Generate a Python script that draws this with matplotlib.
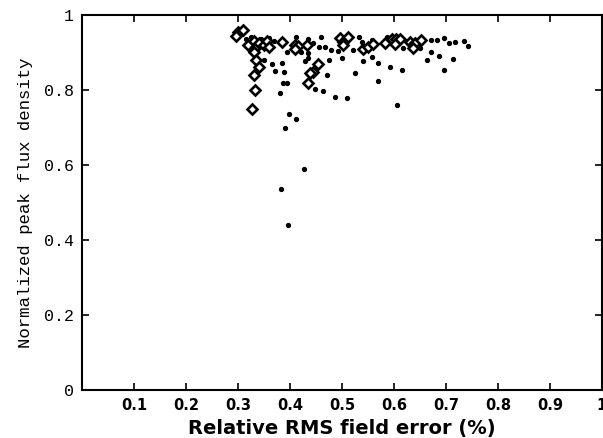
import numpy as np
import matplotlib
matplotlib.use("Agg")
import matplotlib.pyplot as plt

# open diamonds (x = relative RMS field error, y = normalized peak flux density)
dia_x = [0.300, 0.310, 0.297, 0.320, 0.330, 0.335, 0.340, 0.350, 0.355, 0.360,
         0.330, 0.335, 0.340, 0.330, 0.332, 0.328,
         0.385, 0.410, 0.416, 0.410, 0.432,
         0.454, 0.445, 0.438, 0.435,
         0.496, 0.503, 0.512, 0.503,
         0.541, 0.551, 0.560,
         0.583, 0.596, 0.605, 0.612, 0.602,
         0.631, 0.637, 0.640, 0.637, 0.653]
dia_y = [0.955, 0.960, 0.945, 0.920, 0.930, 0.915, 0.925, 0.920, 0.930, 0.915,
         0.900, 0.880, 0.860, 0.840, 0.800, 0.750,
         0.928, 0.920, 0.917, 0.909, 0.920,
         0.869, 0.849, 0.844, 0.819,
         0.938, 0.929, 0.940, 0.920,
         0.908, 0.915, 0.922,
         0.925, 0.935, 0.935, 0.936, 0.923,
         0.929, 0.920, 0.926, 0.913, 0.932]

# small dots
dot_x = [0.411, 0.435, 0.459, 0.445, 0.456, 0.467, 0.479, 0.493, 0.522, 0.532,
         0.538, 0.557, 0.586, 0.618, 0.650, 0.672, 0.683, 0.696, 0.706, 0.717,
         0.743, 0.735, 0.435, 0.435, 0.422, 0.395, 0.384, 0.429, 0.476, 0.501,
         0.541, 0.557, 0.570, 0.592, 0.615, 0.663, 0.671, 0.687, 0.713, 0.697,
         0.388, 0.387, 0.395, 0.381, 0.472, 0.525, 0.570, 0.448, 0.464, 0.487,
         0.509, 0.606, 0.398, 0.411, 0.390, 0.383, 0.427, 0.396,
         0.315, 0.325, 0.345, 0.360, 0.370, 0.350, 0.365, 0.372]
dot_y = [0.942, 0.936, 0.942, 0.925, 0.915, 0.915, 0.907, 0.904, 0.907, 0.940,
         0.929, 0.933, 0.942, 0.913, 0.911, 0.932, 0.932, 0.938, 0.926, 0.929,
         0.917, 0.930, 0.898, 0.886, 0.900, 0.900, 0.871, 0.878, 0.880, 0.884,
         0.877, 0.889, 0.873, 0.862, 0.853, 0.880, 0.900, 0.891, 0.883, 0.853,
         0.849, 0.819, 0.818, 0.793, 0.840, 0.846, 0.825, 0.803, 0.797, 0.782,
         0.778, 0.760, 0.736, 0.722, 0.698, 0.536, 0.589, 0.440,
         0.935, 0.940, 0.935, 0.938, 0.930, 0.880, 0.870, 0.850]

xticks = [0.1, 0.2, 0.3, 0.4, 0.5, 0.6, 0.7, 0.8, 0.9, 1.0]
xtick_labels = ["0.1", "0.2", "0.3", "0.4", "0.5", "0.6", "0.7", "0.8", "0.9", "1"]
yticks = [0, 0.2, 0.4, 0.6, 0.8, 1.0]
ytick_labels = ["0", "0.2", "0.4", "0.6", "0.8", "1"]

fig = plt.figure(figsize=(6.03, 4.38), dpi=100)
ax = fig.add_axes([0.136, 0.110, 0.862, 0.856])

ax.plot(dot_x, dot_y, 'o', color='black', markersize=2.8, linestyle='none')
ax.plot(dia_x, dia_y, 'D', markerfacecolor='white', markeredgecolor='black',
        markersize=5, markeredgewidth=1.9, linestyle='none')

ax.set_xlim(0, 1)
ax.set_ylim(0, 1)
ax.set_xticks(xticks)
ax.set_xticklabels(xtick_labels, family='DejaVu Sans', fontweight='bold', fontsize=10.5)
ax.set_yticks(yticks)
ax.set_yticklabels(ytick_labels, family='Liberation Mono', fontsize=12)
ax.tick_params(direction='in', top=True, right=True, length=5, width=1.2, pad=6)
for s in ax.spines.values():
    s.set_linewidth(1.5)

ax.set_xlabel("Relative RMS field error (%)", family='DejaVu Sans',
              fontweight='bold', fontsize=14, labelpad=4)
ax.set_ylabel("Normalized peak flux density", family='Liberation Mono',
              fontsize=12.5, labelpad=8)

fig.savefig("out.png", dpi=100)
